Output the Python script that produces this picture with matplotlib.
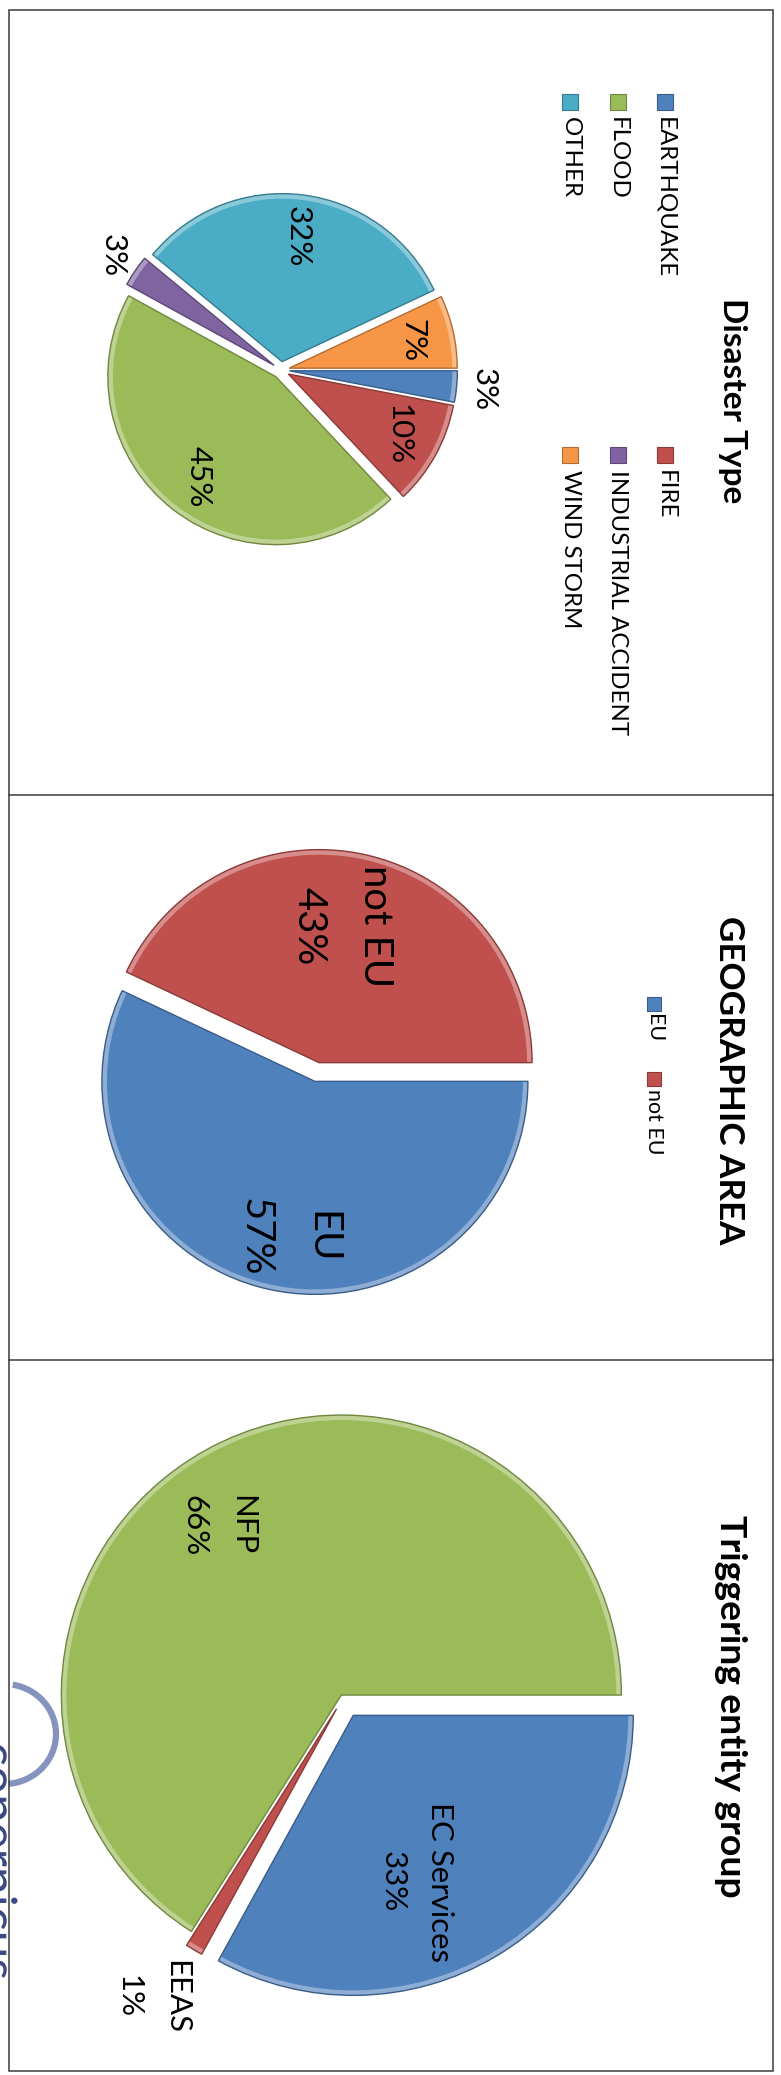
import matplotlib
matplotlib.use("Agg")
import matplotlib.pyplot as plt
import matplotlib.colors as mcolors
from matplotlib.patches import Rectangle, Arc, PathPatch, Wedge
from matplotlib.font_manager import FontProperties
from matplotlib.textpath import TextPath
from matplotlib.transforms import Affine2D
import numpy as np

W, H, DPI = 781, 2075, 100
FONT = "Lato"

# ---------------- data ----------------
disaster_labels = ["EARTHQUAKE", "FIRE", "FLOOD", "INDUSTRIAL ACCIDENT", "OTHER", "WIND STORM"]
disaster_values = [3, 10, 45, 3, 32, 7]

geo_labels = ["EU", "not EU"]
geo_values = [57, 43]

trigger_labels = ["EC Services", "EEAS", "NFP"]
trigger_values = [33, 1, 66]

disaster_colors = ["#4F81BD", "#C0504D", "#9BBB59", "#8064A2", "#4BACC6", "#F79646"]
geo_colors = ["#4F81BD", "#C0504D"]
trigger_colors = ["#4F81BD", "#C0504D", "#9BBB59"]

titles = ["Disaster Type", "GEOGRAPHIC AREA", "Triggering entity group"]

# ---------------- figure ----------------
fig = plt.figure(figsize=(W / DPI, H / DPI), dpi=DPI)
ax = fig.add_axes([0, 0, 1, 1])
renderer = fig.canvas.get_renderer()


def darker(col, f=0.72):
    r, g, b = mcolors.to_rgb(col)
    return (r * f, g * f, b * f)


def lighter(col, f=0.4):
    r, g, b = mcolors.to_rgb(col)
    return (r + (1 - r) * f, g + (1 - g) * f, b + (1 - b) * f)


def fit_size(s, target, weight="normal"):
    """font size (pt) so that the longest line of s is `target` px long"""
    t = fig.text(0, 0, s, fontsize=20, family=FONT, fontweight=weight)
    widths = []
    for ln in s.split("\n"):
        t.set_text(ln)
        widths.append(t.get_window_extent(renderer).width)
    t.remove()
    return 20.0 * target / max(widths)


def line_spacing(size, target_dy, weight="normal"):
    fp = FontProperties(family=FONT, size=size, weight=weight)
    w, h, d = renderer.get_text_width_height_descent("lp", fp, ismath=False)
    return target_dy / (h - d)


def vtext(x, y, s, size, weight="normal", ha="center", va="center", ls=1.2, color="black"):
    return ax.text(x, y, s, rotation=-90, ha=ha, va=va, fontsize=size,
                   family=FONT, fontweight=weight, multialignment="center",
                   linespacing=ls, color=color, zorder=5)


def draw_pie(values, colors, center, radius, explode, dists, texts, size, ls, offsets=None):
    if offsets is None:
        offsets = [0] * len(values)
    wedges, _ = ax.pie(values, colors=colors, startangle=0, counterclock=True,
                       explode=[e * radius for e in explode], radius=radius,
                       center=center, frame=True)
    for w, col in zip(wedges, colors):
        w.set_edgecolor("none")
        # bevel-like rim along the outer arc and a thin darker outline
        ax.add_patch(Wedge(w.center, w.r, w.theta1, w.theta2, width=5,
                           facecolor=lighter(col, 0.35), edgecolor="none", zorder=2))
        ax.add_patch(Wedge(w.center, w.r, w.theta1, w.theta2, fill=False,
                           edgecolor=darker(col), lw=1.0, zorder=3))
    for w, txt, d, off in zip(wedges, texts, dists, offsets):
        th = np.deg2rad(0.5 * (w.theta1 + w.theta2) + off)
        cx, cy = w.center
        vtext(cx + d * w.r * np.cos(th), cy + d * w.r * np.sin(th), txt, size, ls=ls)
    return wedges


# ---------------- panel 1 : Disaster Type ----------------
p1_size = fit_size("32%", 61)
draw_pie(disaster_values, disaster_colors, center=(281, 370), radius=168,
         explode=[0.05] * len(disaster_values),
         dists=[1.16 if v < 5 else 0.75 for v in disaster_values],
         texts=[f"{v}%" for v in disaster_values], size=p1_size, ls=1.2)

leg1_size = fit_size("EARTHQUAKE", 160)
for i, (lab, col) in enumerate(zip(disaster_labels, disaster_colors)):
    cx = 665 - (i // 2) * 47.5
    cy = 102 + (i % 2) * 353
    ax.add_patch(Rectangle((cx - 8, cy - 8), 16, 16, facecolor=col,
                           edgecolor=darker(col), lw=0.8))
    vtext(cx, cy + 15, lab, leg1_size, va="top")

vtext(733, 401, titles[0], fit_size(titles[0], 206, "bold"), weight="bold")

# ---------------- panel 2 : Geographic area ----------------
p2_size = fit_size("not EU", 122)
draw_pie(geo_values, geo_colors, center=(317, 1072), radius=213,
         explode=[0.045, 0.045], dists=[0.74, 0.65], offsets=[-3, -3],
         texts=[f"{l}\n{v}%" for l, v in zip(geo_labels, geo_values)],
         size=p2_size, ls=line_spacing(p2_size, 59))

leg2_size = fit_size("not EU", 65)
for i, (lab, col) in enumerate(zip(geo_labels, geo_colors)):
    cx = 654
    cy = 1004 + i * 75
    ax.add_patch(Rectangle((cx - 7, cy - 7), 14, 14, facecolor=col,
                           edgecolor=darker(col), lw=0.8))
    vtext(cx, cy + 10, lab, leg2_size, va="top")

vtext(729, 1080, titles[1], fit_size(titles[1], 328, "bold"), weight="bold")

# ---------------- panel 3 : Triggering entity group ----------------
p3_size = fit_size("EC Services", 160)
draw_pie(trigger_values, trigger_colors, center=(343, 1698), radius=280,
         explode=[0.072, 0.045, 0.012], dists=[0.635, 1.22, 0.75],
         offsets=[9.8, 2.0, -7.2],
         texts=[f"{l}\n{v}%" for l, v in zip(trigger_labels, trigger_values)],
         size=p3_size, ls=line_spacing(p3_size, 43))

vtext(731, 1706, titles[2], fit_size(titles[2], 384, "bold"), weight="bold")

# ---------------- logo fragment (image in the original, cut off at the left edge) ----------------
ax.add_patch(Arc((4, 1734), 104, 100, theta1=-80, theta2=85, color="#8593bf", lw=4.5))
logo = TextPath((0, 0), "copernicus", size=50, prop=FontProperties(family=FONT))
logo_tf = Affine2D().scale(1, -1).rotate_deg(90).translate(-19, 1742)
ax.add_patch(PathPatch(logo_tf.transform_path(logo), facecolor="#3b4a82",
                       edgecolor="none"))

# ---------------- panel frames ----------------
ax.add_patch(Rectangle((9, 10), 764, 2061, fill=False, edgecolor="#3a3a3a", lw=1.1))
for yy in (795, 1360):
    ax.plot([9, 773], [yy, yy], color="#3a3a3a", lw=1.1)

ax.set_xlim(0, W)
ax.set_ylim(H, 0)
ax.set_aspect("auto")
ax.set_axis_off()

fig.savefig("out.png", dpi=DPI)
